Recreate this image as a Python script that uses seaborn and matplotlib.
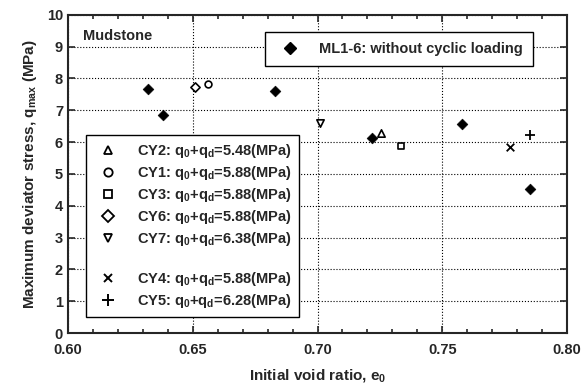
import numpy as np
import pandas as pd
import seaborn as sns
import matplotlib.pyplot as plt
from matplotlib.lines import Line2D
from matplotlib.ticker import MultipleLocator

# data
ml_e0 = [0.632, 0.638, 0.683, 0.722, 0.758, 0.785]
ml_q = [7.67, 6.86, 7.61, 6.13, 6.57, 4.53]

cy_names = ['CY2', 'CY1', 'CY3', 'CY6', 'CY7', 'CY4', 'CY5']
cy_load = ['5.48', '5.88', '5.88', '5.88', '6.38', '5.88', '6.28']
cy_e0 = [0.7255, 0.656, 0.7335, 0.651, 0.701, 0.777, 0.785]
cy_q = [6.28, 7.83, 5.88, 7.74, 6.60, 5.85, 6.23]
cy_markers = ['^', 'o', 's', 'D', 'v', 'x', '+']
cy_sizes = [28, 24, 24, 22, 28, 30, 60]

sns.set_style('ticks')
plt.rcParams['font.family'] = ['Liberation Sans', 'DejaVu Sans']
plt.rcParams['font.weight'] = 'bold'
plt.rcParams['axes.labelweight'] = 'bold'
plt.rcParams['mathtext.fontset'] = 'custom'
plt.rcParams['mathtext.rm'] = 'Liberation Sans:bold'
plt.rcParams['mathtext.it'] = 'Liberation Sans:bold'
plt.rcParams['mathtext.bf'] = 'Liberation Sans:bold'

fig, ax = plt.subplots(figsize=(5.81, 3.90), dpi=100)
fig.subplots_adjust(left=0.117, right=0.976, top=0.962, bottom=0.146)

ml_df = pd.DataFrame({'e0': ml_e0, 'q': ml_q})
sns.scatterplot(data=ml_df, x='e0', y='q', marker='D', s=30, color='black',
                edgecolor='black', ax=ax, legend=False, zorder=3)

for name, e, q, m, s in zip(cy_names, cy_e0, cy_q, cy_markers, cy_sizes):
    if m in ('x', '+'):
        sns.scatterplot(x=[e], y=[q], marker=m, s=s, color='black',
                        linewidth=1.3, ax=ax, legend=False, zorder=3)
    else:
        sns.scatterplot(x=[e], y=[q], marker=m, s=s, facecolor='white',
                        edgecolor='black', linewidth=1.2, ax=ax, legend=False, zorder=3)

ax.set_xlim(0.60, 0.80)
ax.set_ylim(0, 10)
ax.xaxis.set_major_locator(MultipleLocator(0.05))
ax.xaxis.set_minor_locator(MultipleLocator(0.01))
ax.yaxis.set_major_locator(MultipleLocator(1))
ax.set_xticks(np.arange(0.60, 0.801, 0.05))
ax.set_xticklabels(['0.60', '0.65', '0.70', '0.75', '0.80'])
ax.tick_params(which='both', direction='in', top=True, right=True, width=1.2,
               labelsize=10.5)
ax.tick_params(which='major', length=5)
ax.tick_params(which='minor', length=3)
ax.tick_params(axis='x', pad=7)
ax.grid(True, which='major', linestyle=':', color='black', linewidth=0.8)
for sp in ax.spines.values():
    sp.set_linewidth(1.5)

ax.set_xlabel('Initial void ratio, e$_0$', fontsize=11, labelpad=7)
ax.set_ylabel('Maximum deviator stress, q$_{max}$ (MPa)', fontsize=11, labelpad=6)
ax.text(0.03, 0.955, 'Mudstone', transform=ax.transAxes, fontsize=10.5,
        va='top', ha='left')

h_ml = Line2D([], [], marker='D', color='black', linestyle='none', markersize=6)
leg1 = ax.legend([h_ml], ['ML1-6: without cyclic loading'], loc='upper right',
                 bbox_to_anchor=(0.932, 0.947), fancybox=False, edgecolor='black',
                 framealpha=1, fontsize=10.5, handletextpad=1.0, borderpad=0.7,
                 borderaxespad=0)
leg1.get_frame().set_linewidth(1.0)
ax.add_artist(leg1)

handles = []
labels = []
for i, (name, ld, m) in enumerate(zip(cy_names, cy_load, cy_markers)):
    if i == 5:
        handles.append(Line2D([], [], linestyle='none'))
        labels.append(' ')
    if m in ('x', '+'):
        h = Line2D([], [], marker=m, color='black', linestyle='none',
                   markersize=8 if m == '+' else 6, markeredgewidth=1.4)
    else:
        h = Line2D([], [], marker=m, color='black', markerfacecolor='white',
                   linestyle='none', markersize=6, markeredgewidth=1.3)
    handles.append(h)
    labels.append(name + ': q$_0$+q$_d$=' + ld + '(MPa)')
leg2 = ax.legend(handles, labels, loc='lower left', bbox_to_anchor=(0.036, 0.05),
                 fancybox=False, edgecolor='black', framealpha=1, fontsize=10.5,
                 handletextpad=1.0, labelspacing=0.27, borderpad=0.5,
                 borderaxespad=0)
leg2.get_frame().set_linewidth(1.0)

fig.savefig('out.png', dpi=100)
